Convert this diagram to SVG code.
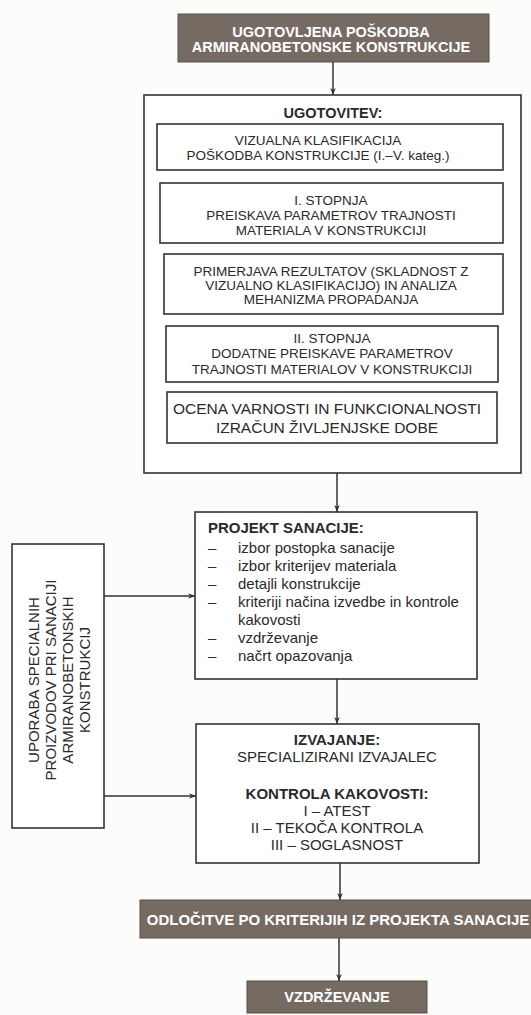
<svg xmlns="http://www.w3.org/2000/svg" width="531" height="1015" viewBox="0 0 531 1015">
<defs>
<marker id="ah" viewBox="0 0 10 10" refX="10" refY="5" markerWidth="7" markerHeight="7" orient="auto" markerUnits="userSpaceOnUse">
<path d="M0,1 L10,5 L0,9 L3,5 Z" fill="#333"/>
</marker>
<style>
.bg{fill:#fcfcfa}
.box{fill:#fff;stroke:#333;stroke-width:1.6}
.ban{fill:#766b63;stroke:#5a514b;stroke-width:1}
.t{font-family:"Liberation Sans",Arial,sans-serif;fill:#2a2a2a;font-size:13.5px;text-anchor:middle;dominant-baseline:central}
.b{font-weight:bold}
.w{fill:#fff;font-weight:bold;font-size:14.5px}
.l{text-anchor:start;font-size:15px}
.m{font-size:15px}
.v{font-size:15px}
.c{stroke:#333;stroke-width:1.5;fill:none;marker-end:url(#ah)}
</style>
</defs>
<rect class="bg" x="0" y="0" width="531" height="1015"/>

<g id="n_top">
<rect class="ban" x="178" y="14" width="311" height="48"/>
<text class="t w" x="331" y="32">UGOTOVLJENA POŠKODBA</text>
<text class="t w" x="331" y="47">ARMIRANOBETONSKE KONSTRUKCIJE</text>
</g>

<g id="n_ugotovitev">
<rect class="box" x="144" y="95" width="377" height="378"/>
<text class="t b" x="333" y="113" style="font-size:14.5px">UGOTOVITEV:</text>
</g>

<g id="n_vizualna">
<rect class="box" x="157" y="124" width="346" height="46"/>
<text class="t" x="318" y="140">VIZUALNA KLASIFIKACIJA</text>
<text class="t" x="318" y="155">POŠKODBA KONSTRUKCIJE (I.–V. kateg.)</text>
</g>

<g id="n_stopnja1">
<rect class="box" x="160" y="183" width="343" height="60"/>
<text class="t" x="331" y="200">I. STOPNJA</text>
<text class="t" x="331" y="215">PREISKAVA PARAMETROV TRAJNOSTI</text>
<text class="t" x="331" y="230">MATERIALA V KONSTRUKCIJI</text>
</g>

<g id="n_primerjava">
<rect class="box" x="164" y="254" width="339" height="60"/>
<text class="t" x="331" y="271">PRIMERJAVA REZULTATOV (SKLADNOST Z</text>
<text class="t" x="331" y="285">VIZUALNO KLASIFIKACIJO) IN ANALIZA</text>
<text class="t" x="331" y="299">MEHANIZMA PROPADANJA</text>
</g>

<g id="n_stopnja2">
<rect class="box" x="166" y="326" width="332" height="56"/>
<text class="t" x="332" y="338">II. STOPNJA</text>
<text class="t" x="332" y="353">DODATNE PREISKAVE PARAMETROV</text>
<text class="t" x="332" y="369">TRAJNOSTI MATERIALOV V KONSTRUKCIJI</text>
</g>

<g id="n_ocena">
<rect class="box" x="167" y="392" width="330" height="51"/>
<text class="t" x="327" y="408" style="font-size:15.5px">OCENA VARNOSTI IN FUNKCIONALNOSTI</text>
<text class="t" x="327" y="427" style="font-size:15.5px">IZRAČUN ŽIVLJENJSKE DOBE</text>
</g>

<g id="n_projekt">
<rect class="box" x="195" y="512" width="282" height="167"/>
<text class="t b l" x="208" y="527">PROJEKT SANACIJE:</text>
<text class="t l" x="208" y="547">–</text>
<text class="t l" x="238" y="547">izbor postopka sanacije</text>
<text class="t l" x="208" y="565">–</text>
<text class="t l" x="238" y="565">izbor kriterijev materiala</text>
<text class="t l" x="208" y="583">–</text>
<text class="t l" x="238" y="583">detajli konstrukcije</text>
<text class="t l" x="208" y="601">–</text>
<text class="t l" x="238" y="601">kriteriji načina izvedbe in kontrole</text>
<text class="t l" x="238" y="619">kakovosti</text>
<text class="t l" x="208" y="637">–</text>
<text class="t l" x="238" y="637">vzdrževanje</text>
<text class="t l" x="208" y="655">–</text>
<text class="t l" x="238" y="655">načrt opazovanja</text>
</g>

<g id="n_uporaba">
<rect class="box" x="12" y="544" width="92" height="284"/>
<g transform="translate(58,680) rotate(-90)">
<text class="t v" x="0" y="-25">UPORABA SPECIALNIH</text>
<text class="t v" x="0" y="-8">PROIZVODOV PRI SANACIJI</text>
<text class="t v" x="0" y="9">ARMIRANOBETONSKIH</text>
<text class="t v" x="0" y="26">KONSTRUKCIJ</text>
</g>
</g>

<g id="n_izvajanje">
<rect class="box" x="196" y="724" width="283" height="139"/>
<text class="t b m" x="337" y="739">IZVAJANJE:</text>
<text class="t m" x="337" y="756">SPECIALIZIRANI IZVAJALEC</text>
<text class="t b m" x="337" y="793">KONTROLA KAKOVOSTI:</text>
<text class="t m" x="337" y="810">I – ATEST</text>
<text class="t m" x="337" y="827">II – TEKOČA KONTROLA</text>
<text class="t m" x="337" y="844">III – SOGLASNOST</text>
</g>

<g id="n_odlocitve">
<rect class="ban" x="140" y="900" width="395" height="38"/>
<text class="t w" x="338" y="919" style="font-size:15px">ODLOČITVE PO KRITERIJIH IZ PROJEKTA SANACIJE</text>
</g>

<g id="n_vzdrzevanje">
<rect class="ban" x="247" y="981" width="180" height="32"/>
<text class="t w" x="337" y="997">VZDRŽEVANJE</text>
</g>

<g id="connectors">
<line class="c" x1="333" y1="62" x2="333" y2="95"/>
<line class="c" x1="337" y1="473" x2="337" y2="512"/>
<line class="c" x1="337" y1="679" x2="337" y2="724"/>
<line class="c" x1="340" y1="863" x2="340" y2="900"/>
<line class="c" x1="339" y1="938" x2="339" y2="981"/>
<line class="c" x1="104" y1="596" x2="195" y2="596"/>
<line class="c" x1="104" y1="796" x2="196" y2="796"/>
</g>
</svg>
